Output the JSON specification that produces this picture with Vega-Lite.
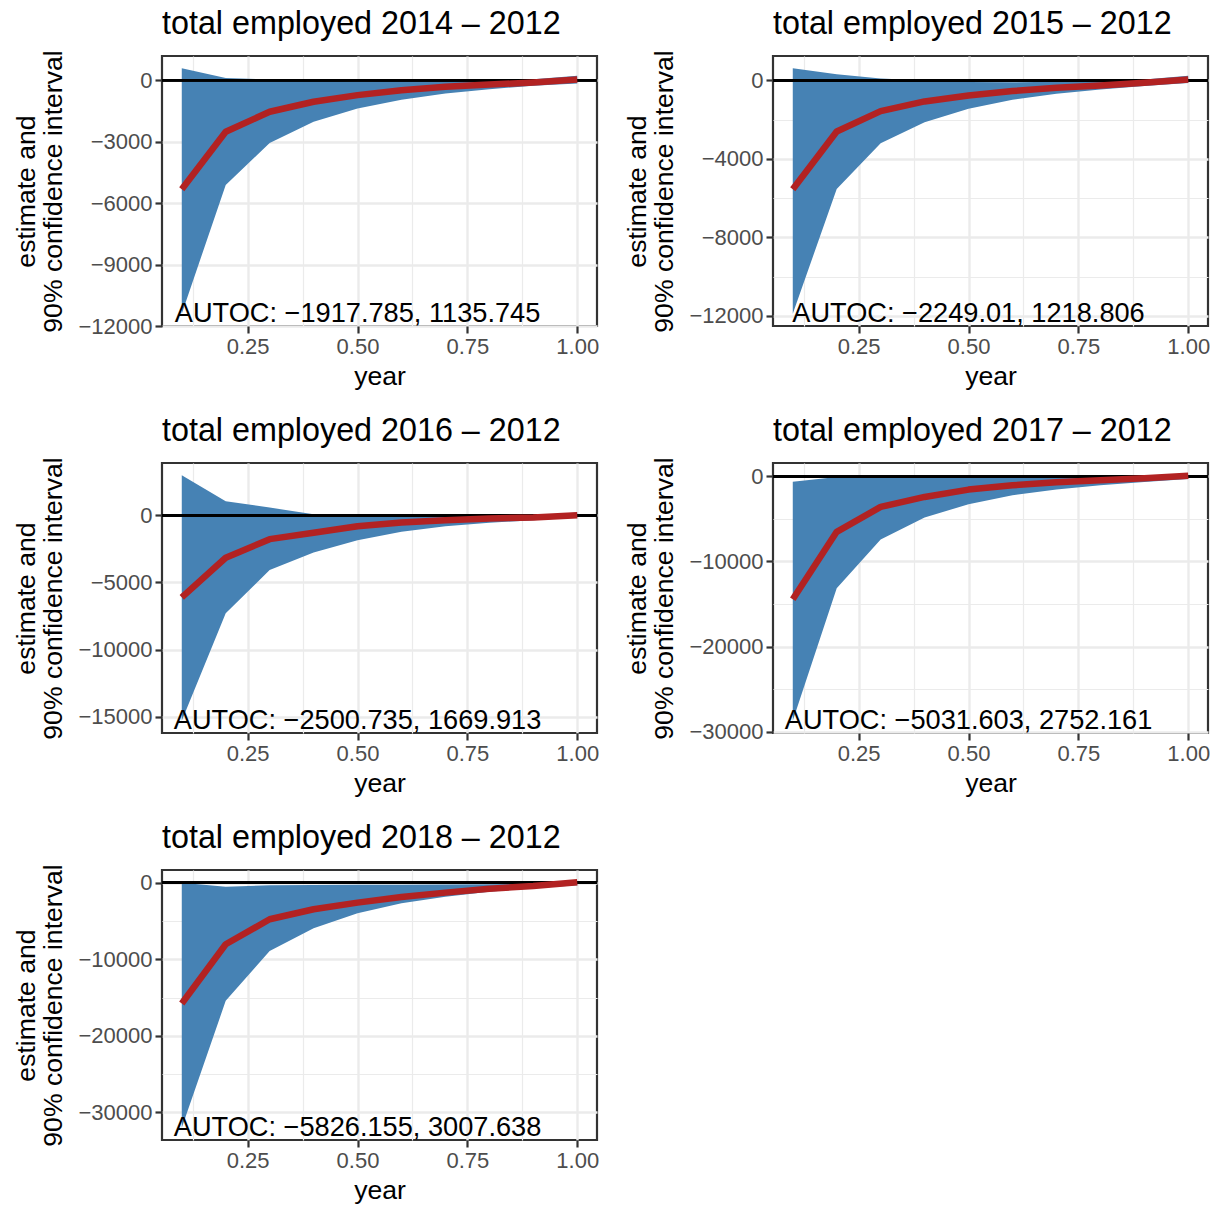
{
  "$schema": "https://vega.github.io/schema/vega-lite/v6.json",
  "padding": {"left": 12, "top": 6, "right": 5, "bottom": 0},
  "background": "#ffffff",
  "datasets": {
    "ci": [
      {"panel": 1, "year": 0.1, "estimate": -5325, "lower": -11400, "upper": 580},
      {"panel": 1, "year": 0.2, "estimate": -2516, "lower": -5113, "upper": 100},
      {"panel": 1, "year": 0.3, "estimate": -1542, "lower": -3068, "upper": 30},
      {"panel": 1, "year": 0.4, "estimate": -1055, "lower": -2029, "upper": -20},
      {"panel": 1, "year": 0.5, "estimate": -730, "lower": -1380, "upper": -60},
      {"panel": 1, "year": 0.6, "estimate": -487, "lower": -958, "upper": -30},
      {"panel": 1, "year": 0.7, "estimate": -325, "lower": -649, "upper": -10},
      {"panel": 1, "year": 0.8, "estimate": -211, "lower": -438, "upper": 15},
      {"panel": 1, "year": 0.9, "estimate": -114, "lower": -276, "upper": 45},
      {"panel": 1, "year": 1.0, "estimate": 30, "lower": -160, "upper": 210},
      {"panel": 2, "year": 0.1, "estimate": -5549, "lower": -11886, "upper": 618},
      {"panel": 2, "year": 0.2, "estimate": -2604, "lower": -5532, "upper": 310},
      {"panel": 2, "year": 0.3, "estimate": -1566, "lower": -3200, "upper": 100},
      {"panel": 2, "year": 0.4, "estimate": -1072, "lower": -2128, "upper": -10},
      {"panel": 2, "year": 0.5, "estimate": -766, "lower": -1447, "upper": -85},
      {"panel": 2, "year": 0.6, "estimate": -545, "lower": -987, "upper": -100},
      {"panel": 2, "year": 0.7, "estimate": -374, "lower": -681, "upper": -67},
      {"panel": 2, "year": 0.8, "estimate": -255, "lower": -460, "upper": -50},
      {"panel": 2, "year": 0.9, "estimate": -119, "lower": -289, "upper": 50},
      {"panel": 2, "year": 1.0, "estimate": 51, "lower": -136, "upper": 238},
      {"panel": 3, "year": 0.1, "estimate": -6114, "lower": -15300, "upper": 2972},
      {"panel": 3, "year": 0.2, "estimate": -3168, "lower": -7302, "upper": 1040},
      {"panel": 3, "year": 0.3, "estimate": -1782, "lower": -4084, "upper": 569},
      {"panel": 3, "year": 0.4, "estimate": -1312, "lower": -2772, "upper": 74},
      {"panel": 3, "year": 0.5, "estimate": -817, "lower": -1856, "upper": -60},
      {"panel": 3, "year": 0.6, "estimate": -545, "lower": -1238, "upper": -100},
      {"panel": 3, "year": 0.7, "estimate": -371, "lower": -817, "upper": -120},
      {"panel": 3, "year": 0.8, "estimate": -248, "lower": -569, "upper": -100},
      {"panel": 3, "year": 0.9, "estimate": -173, "lower": -371, "upper": -50},
      {"panel": 3, "year": 1.0, "estimate": 0, "lower": -173, "upper": 200},
      {"panel": 4, "year": 0.1, "estimate": -14453, "lower": -28714, "upper": -625},
      {"panel": 4, "year": 0.2, "estimate": -6523, "lower": -13164, "upper": -78},
      {"panel": 4, "year": 0.3, "estimate": -3594, "lower": -7422, "upper": -40},
      {"panel": 4, "year": 0.4, "estimate": -2422, "lower": -4844, "upper": -60},
      {"panel": 4, "year": 0.5, "estimate": -1563, "lower": -3281, "upper": -100},
      {"panel": 4, "year": 0.6, "estimate": -1055, "lower": -2227, "upper": -150},
      {"panel": 4, "year": 0.7, "estimate": -703, "lower": -1563, "upper": -200},
      {"panel": 4, "year": 0.8, "estimate": -469, "lower": -1055, "upper": -150},
      {"panel": 4, "year": 0.9, "estimate": -234, "lower": -664, "upper": -50},
      {"panel": 4, "year": 1.0, "estimate": 78, "lower": -313, "upper": 121},
      {"panel": 5, "year": 0.1, "estimate": -15783, "lower": -32006, "upper": 0},
      {"panel": 5, "year": 0.2, "estimate": -8043, "lower": -15435, "upper": -522},
      {"panel": 5, "year": 0.3, "estimate": -4783, "lower": -8913, "upper": -348},
      {"panel": 5, "year": 0.4, "estimate": -3478, "lower": -5957, "upper": -304},
      {"panel": 5, "year": 0.5, "estimate": -2609, "lower": -4000, "upper": -260},
      {"panel": 5, "year": 0.6, "estimate": -1870, "lower": -2696, "upper": -260},
      {"panel": 5, "year": 0.7, "estimate": -1304, "lower": -1826, "upper": -250},
      {"panel": 5, "year": 0.8, "estimate": -783, "lower": -1174, "upper": -220},
      {"panel": 5, "year": 0.9, "estimate": -435, "lower": -739, "upper": -130},
      {"panel": 5, "year": 1.0, "estimate": 43, "lower": -348, "upper": 49}
    ],
    "autoc": [
      {"panel": 1, "year": 0.5, "value": -11400, "label": "AUTOC: −1917.785, 1135.745"},
      {"panel": 2, "year": 0.5, "value": -11886, "label": "AUTOC: −2249.01, 1218.806"},
      {"panel": 3, "year": 0.5, "value": -15300, "label": "AUTOC: −2500.735, 1669.913"},
      {"panel": 4, "year": 0.5, "value": -28714, "label": "AUTOC: −5031.603, 2752.161"},
      {"panel": 5, "year": 0.5, "value": -32006, "label": "AUTOC: −5826.155, 3007.638"}
    ]
  },
  "columns": 2,
  "spacing": {"row": 22, "column": 23},
  "concat": [
    {
      "width": 435, "height": 270,
      "title": {"text": "total employed 2014 – 2012"},
      "data": {"name": "ci"},
      "transform": [{"filter": "datum.panel === 1"}],
      "layer": [
        {"mark": {"type": "area", "color": "#4682B4", "fillOpacity": 1},
         "encoding": {
           "x": {"field": "year", "type": "quantitative", "scale": {"domain": [0.055, 1.045], "nice": false, "zero": false},
                 "axis": {"title": "year", "values": [0.125, 0.25, 0.375, 0.5, 0.625, 0.75, 0.875, 1],
                          "labelExpr": "indexof([0.25,0.5,0.75,1], datum.value) >= 0 ? format(datum.value, '.2f') : ''",
                          "tickOpacity": {"condition": {"test": "indexof([0.25,0.5,0.75,1], datum.value) < 0", "value": 0}, "value": 1},
                          "gridWidth": {"condition": {"test": "indexof([0.25,0.5,0.75,1], datum.value) < 0", "value": 1.2}, "value": 2.4}}},
           "y": {"field": "lower", "type": "quantitative", "scale": {"domain": [-12000, 1180], "nice": false, "zero": false},
                 "axis": {"title": ["estimate and", "90% confidence interval"], "values": [-12000, -10500, -9000, -7500, -6000, -4500, -3000, -1500, 0],
                          "labelExpr": "indexof([-12000,-9000,-6000,-3000,0], datum.value) >= 0 ? format(datum.value, 'd') : ''",
                          "tickOpacity": {"condition": {"test": "indexof([-12000,-9000,-6000,-3000,0], datum.value) < 0", "value": 0}, "value": 1},
                          "gridWidth": {"condition": {"test": "indexof([-12000,-9000,-6000,-3000,0], datum.value) < 0", "value": 1.2}, "value": 2.4}}},
           "y2": {"field": "upper"}
         }},
        {"mark": {"type": "rule", "color": "#000000", "strokeWidth": 2.4}, "encoding": {"y": {"datum": 0, "type": "quantitative"}}},
        {"mark": {"type": "line", "color": "#B22222", "strokeWidth": 6.5, "strokeJoin": "round"},
         "encoding": {"x": {"field": "year", "type": "quantitative"}, "y": {"field": "estimate", "type": "quantitative"}}},
        {"data": {"name": "autoc"}, "transform": [{"filter": "datum.panel === 1"}],
         "mark": {"type": "text", "fontSize": 27.2, "color": "#000000", "align": "center", "baseline": "middle"},
         "encoding": {"x": {"field": "year", "type": "quantitative"}, "y": {"field": "value", "type": "quantitative"}, "text": {"field": "label"}}}
      ]
    },
    {
      "width": 435, "height": 270,
      "title": {"text": "total employed 2015 – 2012"},
      "data": {"name": "ci"},
      "transform": [{"filter": "datum.panel === 2"}],
      "layer": [
        {"mark": {"type": "area", "color": "#4682B4", "fillOpacity": 1},
         "encoding": {
           "x": {"field": "year", "type": "quantitative", "scale": {"domain": [0.055, 1.045], "nice": false, "zero": false},
                 "axis": {"title": "year", "values": [0.125, 0.25, 0.375, 0.5, 0.625, 0.75, 0.875, 1],
                          "labelExpr": "indexof([0.25,0.5,0.75,1], datum.value) >= 0 ? format(datum.value, '.2f') : ''",
                          "tickOpacity": {"condition": {"test": "indexof([0.25,0.5,0.75,1], datum.value) < 0", "value": 0}, "value": 1},
                          "gridWidth": {"condition": {"test": "indexof([0.25,0.5,0.75,1], datum.value) < 0", "value": 1.2}, "value": 2.4}}},
           "y": {"field": "lower", "type": "quantitative", "scale": {"domain": [-12511, 1243], "nice": false, "zero": false},
                 "axis": {"title": ["estimate and", "90% confidence interval"], "values": [-12000, -10000, -8000, -6000, -4000, -2000, 0],
                          "labelExpr": "indexof([-12000,-8000,-4000,0], datum.value) >= 0 ? format(datum.value, 'd') : ''",
                          "tickOpacity": {"condition": {"test": "indexof([-12000,-8000,-4000,0], datum.value) < 0", "value": 0}, "value": 1},
                          "gridWidth": {"condition": {"test": "indexof([-12000,-8000,-4000,0], datum.value) < 0", "value": 1.2}, "value": 2.4}}},
           "y2": {"field": "upper"}
         }},
        {"mark": {"type": "rule", "color": "#000000", "strokeWidth": 2.4}, "encoding": {"y": {"datum": 0, "type": "quantitative"}}},
        {"mark": {"type": "line", "color": "#B22222", "strokeWidth": 6.5, "strokeJoin": "round"},
         "encoding": {"x": {"field": "year", "type": "quantitative"}, "y": {"field": "estimate", "type": "quantitative"}}},
        {"data": {"name": "autoc"}, "transform": [{"filter": "datum.panel === 2"}],
         "mark": {"type": "text", "fontSize": 27.2, "color": "#000000", "align": "center", "baseline": "middle"},
         "encoding": {"x": {"field": "year", "type": "quantitative"}, "y": {"field": "value", "type": "quantitative"}, "text": {"field": "label"}}}
      ]
    },
    {
      "width": 435, "height": 270,
      "title": {"text": "total employed 2016 – 2012"},
      "data": {"name": "ci"},
      "transform": [{"filter": "datum.panel === 3"}],
      "layer": [
        {"mark": {"type": "area", "color": "#4682B4", "fillOpacity": 1},
         "encoding": {
           "x": {"field": "year", "type": "quantitative", "scale": {"domain": [0.055, 1.045], "nice": false, "zero": false},
                 "axis": {"title": "year", "values": [0.125, 0.25, 0.375, 0.5, 0.625, 0.75, 0.875, 1],
                          "labelExpr": "indexof([0.25,0.5,0.75,1], datum.value) >= 0 ? format(datum.value, '.2f') : ''",
                          "tickOpacity": {"condition": {"test": "indexof([0.25,0.5,0.75,1], datum.value) < 0", "value": 0}, "value": 1},
                          "gridWidth": {"condition": {"test": "indexof([0.25,0.5,0.75,1], datum.value) < 0", "value": 1.2}, "value": 2.4}}},
           "y": {"field": "lower", "type": "quantitative", "scale": {"domain": [-16213, 3886], "nice": false, "zero": false},
                 "axis": {"title": ["estimate and", "90% confidence interval"], "values": [-15000, -12500, -10000, -7500, -5000, -2500, 0, 2500],
                          "labelExpr": "indexof([-15000,-10000,-5000,0], datum.value) >= 0 ? format(datum.value, 'd') : ''",
                          "tickOpacity": {"condition": {"test": "indexof([-15000,-10000,-5000,0], datum.value) < 0", "value": 0}, "value": 1},
                          "gridWidth": {"condition": {"test": "indexof([-15000,-10000,-5000,0], datum.value) < 0", "value": 1.2}, "value": 2.4}}},
           "y2": {"field": "upper"}
         }},
        {"mark": {"type": "rule", "color": "#000000", "strokeWidth": 2.4}, "encoding": {"y": {"datum": 0, "type": "quantitative"}}},
        {"mark": {"type": "line", "color": "#B22222", "strokeWidth": 6.5, "strokeJoin": "round"},
         "encoding": {"x": {"field": "year", "type": "quantitative"}, "y": {"field": "estimate", "type": "quantitative"}}},
        {"data": {"name": "autoc"}, "transform": [{"filter": "datum.panel === 3"}],
         "mark": {"type": "text", "fontSize": 27.2, "color": "#000000", "align": "center", "baseline": "middle"},
         "encoding": {"x": {"field": "year", "type": "quantitative"}, "y": {"field": "value", "type": "quantitative"}, "text": {"field": "label"}}}
      ]
    },
    {
      "width": 435, "height": 270,
      "title": {"text": "total employed 2017 – 2012"},
      "data": {"name": "ci"},
      "transform": [{"filter": "datum.panel === 4"}],
      "layer": [
        {"mark": {"type": "area", "color": "#4682B4", "fillOpacity": 1},
         "encoding": {
           "x": {"field": "year", "type": "quantitative", "scale": {"domain": [0.055, 1.045], "nice": false, "zero": false},
                 "axis": {"title": "year", "values": [0.125, 0.25, 0.375, 0.5, 0.625, 0.75, 0.875, 1],
                          "labelExpr": "indexof([0.25,0.5,0.75,1], datum.value) >= 0 ? format(datum.value, '.2f') : ''",
                          "tickOpacity": {"condition": {"test": "indexof([0.25,0.5,0.75,1], datum.value) < 0", "value": 0}, "value": 1},
                          "gridWidth": {"condition": {"test": "indexof([0.25,0.5,0.75,1], datum.value) < 0", "value": 1.2}, "value": 2.4}}},
           "y": {"field": "lower", "type": "quantitative", "scale": {"domain": [-30156, 1563], "nice": false, "zero": false},
                 "axis": {"title": ["estimate and", "90% confidence interval"], "values": [-30000, -25000, -20000, -15000, -10000, -5000, 0],
                          "labelExpr": "indexof([-30000,-20000,-10000,0], datum.value) >= 0 ? format(datum.value, 'd') : ''",
                          "tickOpacity": {"condition": {"test": "indexof([-30000,-20000,-10000,0], datum.value) < 0", "value": 0}, "value": 1},
                          "gridWidth": {"condition": {"test": "indexof([-30000,-20000,-10000,0], datum.value) < 0", "value": 1.2}, "value": 2.4}}},
           "y2": {"field": "upper"}
         }},
        {"mark": {"type": "rule", "color": "#000000", "strokeWidth": 2.4}, "encoding": {"y": {"datum": 0, "type": "quantitative"}}},
        {"mark": {"type": "line", "color": "#B22222", "strokeWidth": 6.5, "strokeJoin": "round"},
         "encoding": {"x": {"field": "year", "type": "quantitative"}, "y": {"field": "estimate", "type": "quantitative"}}},
        {"data": {"name": "autoc"}, "transform": [{"filter": "datum.panel === 4"}],
         "mark": {"type": "text", "fontSize": 27.2, "color": "#000000", "align": "center", "baseline": "middle"},
         "encoding": {"x": {"field": "year", "type": "quantitative"}, "y": {"field": "value", "type": "quantitative"}, "text": {"field": "label"}}}
      ]
    },
    {
      "width": 435, "height": 270,
      "title": {"text": "total employed 2018 – 2012"},
      "data": {"name": "ci"},
      "transform": [{"filter": "datum.panel === 5"}],
      "layer": [
        {"mark": {"type": "area", "color": "#4682B4", "fillOpacity": 1},
         "encoding": {
           "x": {"field": "year", "type": "quantitative", "scale": {"domain": [0.055, 1.045], "nice": false, "zero": false},
                 "axis": {"title": "year", "values": [0.125, 0.25, 0.375, 0.5, 0.625, 0.75, 0.875, 1],
                          "labelExpr": "indexof([0.25,0.5,0.75,1], datum.value) >= 0 ? format(datum.value, '.2f') : ''",
                          "tickOpacity": {"condition": {"test": "indexof([0.25,0.5,0.75,1], datum.value) < 0", "value": 0}, "value": 1},
                          "gridWidth": {"condition": {"test": "indexof([0.25,0.5,0.75,1], datum.value) < 0", "value": 1.2}, "value": 2.4}}},
           "y": {"field": "lower", "type": "quantitative", "scale": {"domain": [-33609, 1652], "nice": false, "zero": false},
                 "axis": {"title": ["estimate and", "90% confidence interval"], "values": [-30000, -25000, -20000, -15000, -10000, -5000, 0],
                          "labelExpr": "indexof([-30000,-20000,-10000,0], datum.value) >= 0 ? format(datum.value, 'd') : ''",
                          "tickOpacity": {"condition": {"test": "indexof([-30000,-20000,-10000,0], datum.value) < 0", "value": 0}, "value": 1},
                          "gridWidth": {"condition": {"test": "indexof([-30000,-20000,-10000,0], datum.value) < 0", "value": 1.2}, "value": 2.4}}},
           "y2": {"field": "upper"}
         }},
        {"mark": {"type": "rule", "color": "#000000", "strokeWidth": 2.4}, "encoding": {"y": {"datum": 0, "type": "quantitative"}}},
        {"mark": {"type": "line", "color": "#B22222", "strokeWidth": 6.5, "strokeJoin": "round"},
         "encoding": {"x": {"field": "year", "type": "quantitative"}, "y": {"field": "estimate", "type": "quantitative"}}},
        {"data": {"name": "autoc"}, "transform": [{"filter": "datum.panel === 5"}],
         "mark": {"type": "text", "fontSize": 27.2, "color": "#000000", "align": "center", "baseline": "middle"},
         "encoding": {"x": {"field": "year", "type": "quantitative"}, "y": {"field": "value", "type": "quantitative"}, "text": {"field": "label"}}}
      ]
    }
  ],
  "config": {
    "font": "Liberation Sans",
    "view": {"stroke": "#333333", "strokeWidth": 2.2},
    "axis": {
      "domain": false,
      "labelFontSize": 22,
      "labelColor": "#4D4D4D",
      "labelPadding": 3,
      "labelOverlap": false,
      "labelFlush": false,
      "titleFontSize": 26.6,
      "titleFontWeight": "normal",
      "titleColor": "#000000",
      "tickColor": "#333333",
      "tickSize": 7,
      "tickWidth": 2.2,
      "gridColor": "#EBEBEB"
    },
    "axisY": {"titlePadding": 10, "titleLineHeight": 27},
    "axisX": {"titlePadding": 6},
    "title": {"fontSize": 32.3, "fontWeight": "normal", "anchor": "start", "frame": "group", "color": "#000000", "offset": 10}
  }
}
